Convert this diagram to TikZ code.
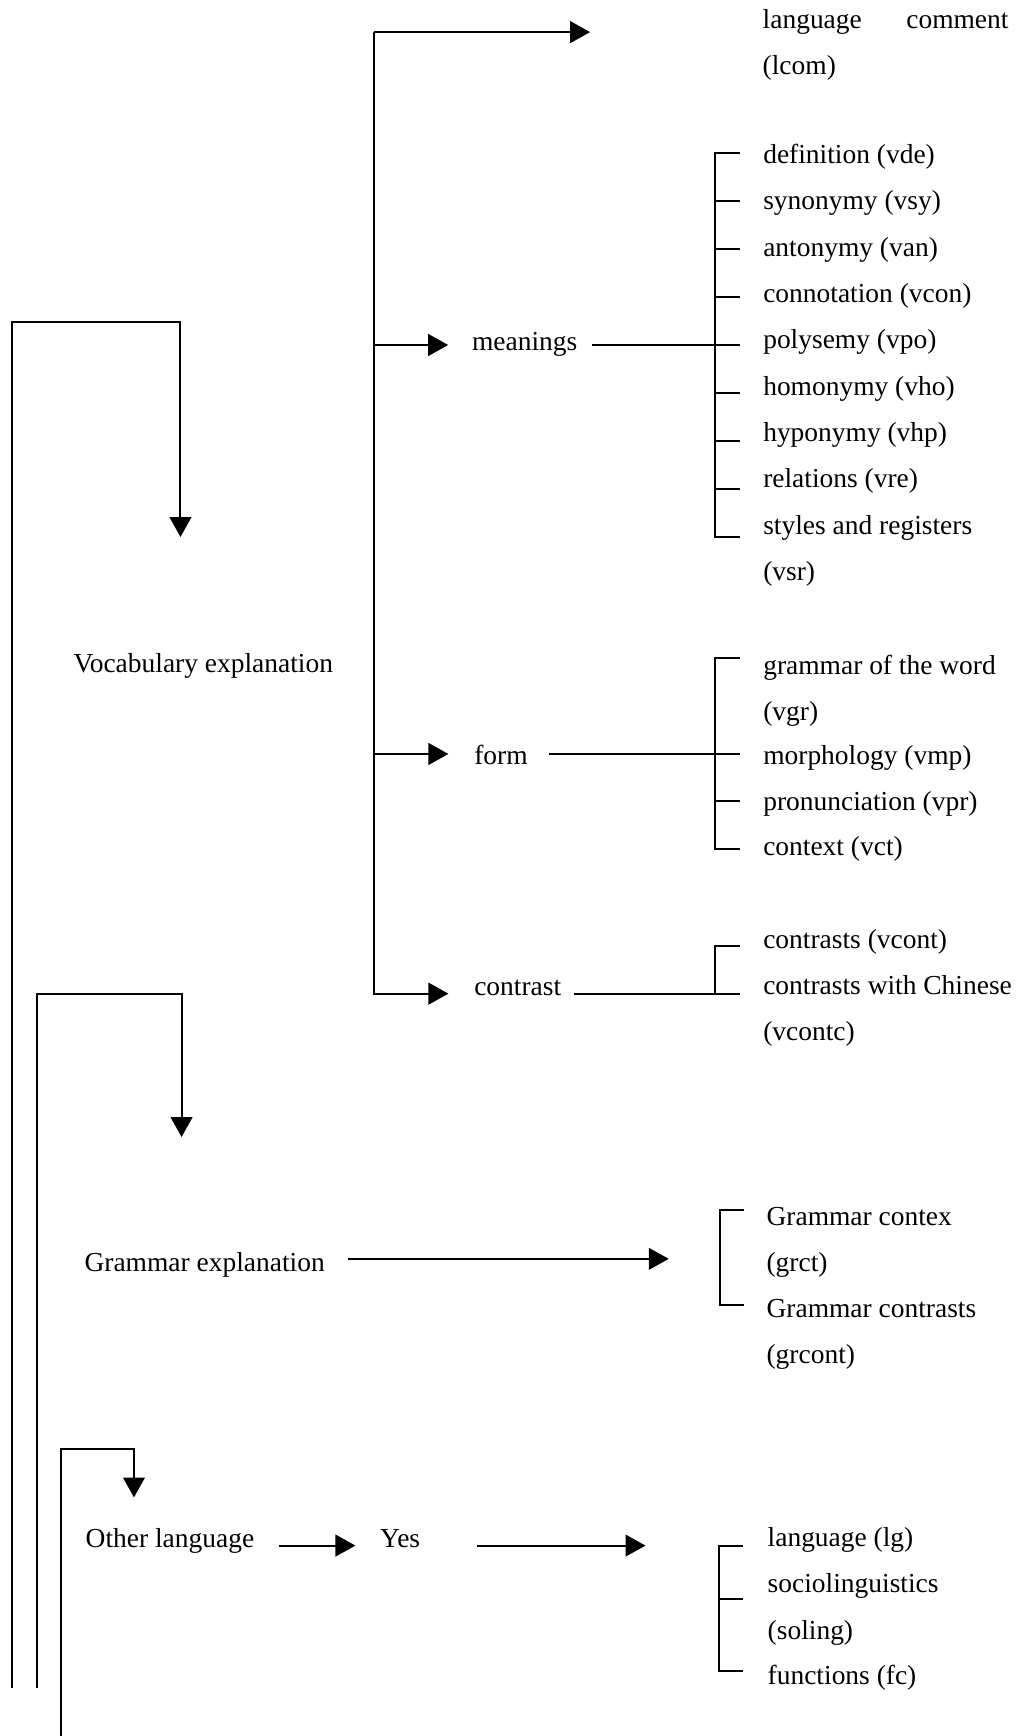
\documentclass[tikz,border=0pt]{standalone}
\usepackage{fontspec}
\setmainfont{Liberation Serif}
\usetikzlibrary{arrows.meta}
\tikzstyle{item}=[inner sep=0pt, anchor=mid west, font=\fontsize{12.4}{20.9}\selectfont]
\tikzstyle{link}=[draw, line width=0.9pt]
\tikzstyle{arrow}=[link, -{Triangle[length=9pt,width=9.8pt]}]
\newcommand{\twolines}[2]{\begin{tabular}[t]{@{}l@{}}#1\\#2\end{tabular}}

\begin{document}
\begin{tikzpicture}[x=0.5pt,y=-0.5pt]
\useasboundingbox (0,0) rectangle (919,1568);

   \def\colx{689};
   \def\tickx{668};
   \def\br{22};

%Vocabulary
   \node[item] (vocab) at (66,603) {Vocabulary explanation};
   \coordinate (trunk) at (337.5,29);
   \coordinate (lcom-in) at (533,29);
   \node[item] (lcom) at (688.5,21) {\twolines{\makebox[111pt][s]{language comment}}{(lcom)}};

%meanings
   \node[item] (meanings) at (426,311.8) {meanings};
    \foreach \y/\t/\name/\txt in {143/138/vde/{definition (vde)}, 184.85/181.4/vsy/{synonymy (vsy)},
        226.7/224.8/van/{antonymy (van)}, 268.55/268.2/vcon/{connotation (vcon)},
        310.4/311.6/vpo/{polysemy (vpo)}, 352.25/355/vho/{homonymy (vho)},
        394.1/398.4/vhp/{hyponymy (vhp)}, 435.95/441.8/vre/{relations (vre)},
        477.8/485.2/vsr/{\twolines{styles and registers}{(vsr)}}}
       {\node[item] (\name) at (\colx,\y) {\txt};
        \coordinate (t-\name) at (\tickx,\t);}

%form
   \node[item] (form) at (428,686) {form};
    \foreach \y/\t/\name/\txt in {604.5/594/vgr/{\twolines{grammar of the word}{(vgr)}},
        686/681/vmp/{morphology (vmp)}, 727.5/723.5/vpr/{pronunciation (vpr)}, 768/766.5/vct/{context (vct)}}
       {\node[item] (\name) at (\colx,\y) {\txt};
        \coordinate (t-\name) at (\tickx,\t);}

%contrast
   \node[item] (contrast) at (428,895) {contrast};
    \foreach \y/\t/\name/\txt in {852/854/vcont/{contrasts (vcont)}, 893.5/897.5/vcontc/{\twolines{contrasts with Chinese}{(vcontc)}}}
       {\node[item] (\name) at (\colx,\y) {\txt};
        \coordinate (t-\name) at (\tickx,\t);}

%Grammar
   \def\colx{692};
   \def\tickx{672};
   \node[item] (grammar) at (76,1144) {Grammar explanation};
   \coordinate (gr-in) at (604,1137);
    \foreach \y/\t/\name/\txt in {1102/1093/grct/{\twolines{Grammar contex}{(grct)}}, 1185.5/1179/grcont/{\twolines{Grammar contrasts}{(grcont)}}}
       {\node[item] (\name) at (\colx,\y) {\txt};
        \coordinate (t-\name) at (\tickx,\t);}

%Other language
   \def\colx{693};
   \def\tickx{671};
   \node[item] (other) at (77,1393) {Other language};
   \node[item] (yes) at (343,1393) {Yes};
   \coordinate (lg-in) at (583,1396);
    \foreach \y/\t/\name/\txt in {1392/1396/lg/{language (lg)}, 1434/1444/soling/{\twolines{sociolinguistics}{(soling)}}, 1517/1509/fc/{functions (fc)}}
       {\node[item] (\name) at (\colx,\y) {\txt};
        \coordinate (t-\name) at (\tickx,\t);}

% loops on the left
   \coordinate (baseA) at (10.5,1525);
   \coordinate (turnA) at (163,291);
   \coordinate (vocab-in) at (163,485);
   \coordinate (baseB) at (33,1525);
   \coordinate (turnB) at (164,897.6);
   \coordinate (grammar-in) at (164,1027);
   \coordinate (baseC) at (55,1568);
   \coordinate (turnC) at (121,1309);
   \coordinate (other-in) at (121,1352.5);

    \draw[arrow] (baseA) |- (turnA) -- (vocab-in);
    \draw[arrow] (baseB) |- (turnB) -- (grammar-in);
    \draw[arrow] (baseC) |- (turnC) -- (other-in);

% trunk and branches
    \draw[arrow] (trunk) -- (lcom-in);
    \draw[arrow, shorten >=10.6pt] (trunk |- t-vpo) -- (meanings.west |- t-vpo);
    \draw[arrow, shorten >=11.5pt] (trunk |- t-vmp) -- (form.west |- t-vmp);
    \draw[arrow, shorten >=11.5pt] (trunk) |- (contrast.west |- t-vcontc);

% to the brackets
    \draw[link, shorten <=6.5pt] (meanings.east |- t-vpo) -- (t-vpo);
    \draw[link, shorten <=9.5pt] (form.east |- t-vmp) -- (t-vmp);
    \draw[link, shorten <=5.5pt] (contrast.east |- t-vcontc) -- (t-vcontc);
    \draw[arrow, shorten <=10.5pt] (grammar.east |- gr-in) -- (gr-in);
    \draw[arrow, shorten <=11pt, shorten >=11pt] (other.east |- t-lg) -- (yes.west |- t-lg);
    \draw[arrow, shorten <=25.5pt] (yes.east |- t-lg) -- (lg-in);

% brackets
    \draw[link] (t-vde) -- ++(-\br,0) |- (t-vsr);
    \foreach \name in {vsy,van,vcon,vpo,vho,vhp,vre}
        \draw[link] (t-\name) -- ++(-\br,0);
    \draw[link] (t-vgr) -- ++(-\br,0) |- (t-vct);
    \foreach \name in {vmp,vpr}
        \draw[link] (t-\name) -- ++(-\br,0);
    \draw[link] (t-vcont) -- ++(-\br,0) |- (t-vcontc);
    \draw[link] (t-grct) -- ++(-\br,0) |- (t-grcont);
    \draw[link] (t-lg) -- ++(-\br,0) |- (t-fc);
    \draw[link] (t-soling) -- ++(-\br,0);

\end{tikzpicture}
\end{document}
